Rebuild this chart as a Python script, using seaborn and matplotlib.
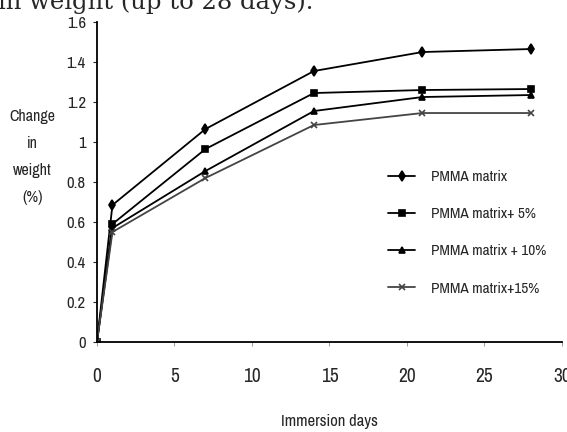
import matplotlib
matplotlib.use('Agg')
import matplotlib.pyplot as plt
from matplotlib import font_manager
import seaborn as sns

# data
days = [0, 1, 7, 14, 21, 28]
pmma = [0, 0.685, 1.065, 1.355, 1.45, 1.465]
pmma_5 = [0, 0.59, 0.965, 1.245, 1.26, 1.265]
pmma_10 = [0, 0.57, 0.855, 1.155, 1.225, 1.235]
pmma_15 = [0, 0.55, 0.82, 1.085, 1.145, 1.145]

labels = ['PMMA matrix', 'PMMA matrix+ 5%', 'PMMA matrix + 10%', 'PMMA matrix+15%']
y_ticks = [0, 0.2, 0.4, 0.6, 0.8, 1, 1.2, 1.4, 1.6]
y_tick_labels = ['0', '0.2', '0.4', '0.6', '0.8', '1', '1.2', '1.4', '1.6']
x_ticks = [0, 5, 10, 15, 20, 25, 30]

sns.set_style('white')

# the scan uses a narrow sans face, pick one if available
names = sorted({f.name for f in font_manager.fontManager.ttflist})
narrow = [n for n in names if 'Narrow' in n or 'Condensed' in n]
if narrow:
    main_font = narrow[0]
    fs = 11
else:
    main_font = 'Liberation Sans'
    fs = 9
plt.rcParams['font.family'] = [main_font, 'DejaVu Sans']

fig = plt.figure(figsize=(5.67, 4.32), dpi=100)
ax = fig.add_axes([0.171, 0.2083, 0.820, 0.7407])

series = [pmma, pmma_5, pmma_10, pmma_15]
markers = ['d', 's', '^', 'x']
colors = ['black', 'black', 'black', '#444444']
for vals, lab, m, c in zip(series, labels, markers, colors):
    sns.lineplot(x=days, y=vals, ax=ax, color=c, marker=m, markersize=5,
                 markeredgecolor=c, markeredgewidth=1.2, linewidth=1.3, label=lab)

ax.set_xlim(0, 30)
ax.set_ylim(0, 1.6)
ax.set_xticks(x_ticks)
ax.set_yticks(y_ticks)
ax.set_yticklabels(y_tick_labels)
ax.tick_params(axis='x', direction='out', length=3, width=0.6, pad=15, labelsize=fs + 3, color='#888888')
ax.tick_params(axis='y', direction='out', length=3, width=0.8, pad=5, labelsize=fs + 1)
ax.tick_params(bottom=True, left=True)

for side in ['top', 'right']:
    ax.spines[side].set_visible(False)
for side in ['left', 'bottom']:
    ax.spines[side].set_color('black')
    ax.spines[side].set_linewidth(1.3)

ax.set_xlabel('Immersion days', fontsize=fs + 1, labelpad=20)
ax.set_ylabel('Change\nin\nweight\n(%)', rotation=0, fontsize=fs + 0.5, linespacing=2.0,
              va='center', ha='center')
ax.yaxis.set_label_coords(-0.138, 0.578)

leg = ax.legend(loc='upper left', bbox_to_anchor=(0.596, 0.581), frameon=False,
                fontsize=fs, labelspacing=1.52, handlelength=1.8, handletextpad=1.0)

# caption fragment cut off at the top of the scan
fig.text(-0.004, 1 - 9 / 432, 'in weight (up to 28 days).', fontsize=17.5,
         family='DejaVu Serif', va='baseline', ha='left')

fig.savefig('out.png', dpi=100)
